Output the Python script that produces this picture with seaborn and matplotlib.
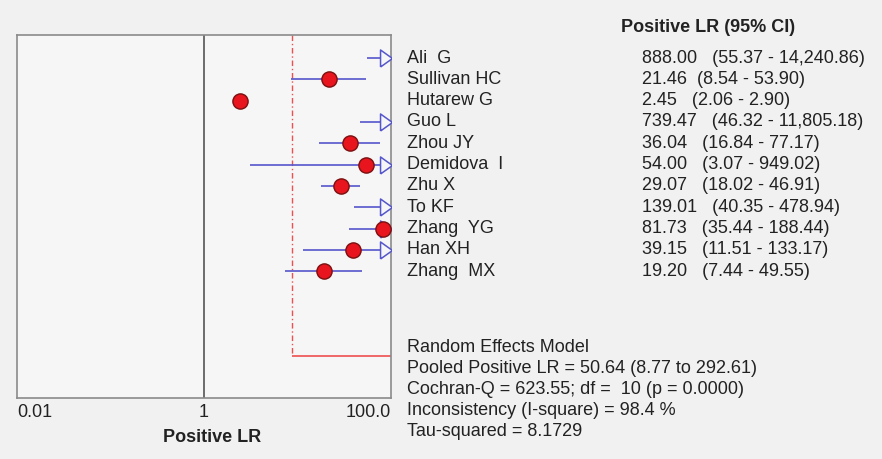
import numpy as np
import pandas as pd
import matplotlib
matplotlib.use("Agg")
import matplotlib.pyplot as plt
import matplotlib.transforms as mtrans
import seaborn as sns

studies = ["Ali  G", "Sullivan HC", "Hutarew G", "Guo L", "Zhou JY", "Demidova  I",
           "Zhu X", "To KF", "Zhang  YG", "Han XH", "Zhang  MX"]
lr = [888.00, 21.46, 2.45, 739.47, 36.04, 54.00, 29.07, 139.01, 81.73, 39.15, 19.20]
lo = [55.37, 8.54, 2.06, 46.32, 16.84, 3.07, 18.02, 40.35, 35.44, 11.51, 7.44]
hi = [14240.86, 53.90, 2.90, 11805.18, 77.17, 949.02, 46.91, 478.94, 188.44, 133.17, 49.55]
ci_text = ["888.00   (55.37 - 14,240.86)", "21.46  (8.54 - 53.90)", "2.45   (2.06 - 2.90)",
           "739.47   (46.32 - 11,805.18)", "36.04   (16.84 - 77.17)", "54.00   (3.07 - 949.02)",
           "29.07   (18.02 - 46.91)", "139.01   (40.35 - 478.94)", "81.73   (35.44 - 188.44)",
           "39.15   (11.51 - 133.17)", "19.20   (7.44 - 49.55)"]
pooled, pooled_lo, pooled_hi = 50.64, 8.77, 292.61
summary_lines = ["Random Effects Model",
                 "Pooled Positive LR = 50.64 (8.77 to 292.61)",
                 "Cochran-Q = 623.55; df =  10 (p = 0.0000)",
                 "Inconsistency (I-square) = 98.4 %",
                 "Tau-squared = 8.1729"]
xticks = [0.01, 1, 100]
xticklabels = ["0.01", "1", "100.0"]

sns.set_theme(style="white")
plt.rcParams['font.family'] = ['Liberation Sans', 'DejaVu Sans']
FS = 13

XMIN, XMAX = 0.01, 100
df = pd.DataFrame({"study": studies, "lr": lr, "lo": lo, "hi": hi, "row": np.arange(len(studies))})

fig = plt.figure(figsize=(8.82, 4.59), dpi=100, facecolor="#f1f1f1")
ax = fig.add_axes([17/882, 1 - 398/459, (391-17)/882, (398-35)/459])
ax.set_facecolor("#f6f6f6")
ax.set_xscale("log")
ax.set_xlim(XMIN, XMAX)
ax.set_ylim(15.95, -1.08)

blue = "#5656cc"
red = "#e8141e"
# CI lines (clipped at axis)
ax.hlines(df["row"], df["lo"].clip(upper=XMAX), df["hi"].clip(upper=XMAX), color=blue, lw=1.2, zorder=2)
# arrows for CIs that exceed the axis
arr = df[df["hi"] > XMAX]
arrow_x = XMAX * 10 ** (-5.0 / 93.5)
tri = [(-0.35, -0.5), (0.35, 0.0), (-0.35, 0.5), (-0.35, -0.5)]
ax.scatter([arrow_x] * len(arr), arr["row"], marker=tri, s=150, facecolor="#f6f6f6",
           edgecolor=blue, linewidth=1.1, zorder=3)
# point estimates inside range
inside = df[df["lr"] <= XMAX]
sns.scatterplot(data=inside, x="lr", y="row", ax=ax, s=120, color=red, edgecolor="#7a1010",
                linewidth=1.0, zorder=4, legend=False)

# reference line at 1
ax.axvline(1, color="#555555", lw=1.2, zorder=1)
# pooled
pooled_row = 14
ax.plot([pooled_lo, pooled_lo], [-1.08, pooled_row], color="#ee5050", lw=1.0,
        linestyle=(0, (4, 2, 1, 2)), zorder=1)
ax.hlines(pooled_row, pooled_lo, min(pooled_hi, XMAX), color="#ee5050", lw=1.2, zorder=2)

for s in ax.spines.values():
    s.set_color("#8a8a8a")
    s.set_linewidth(1.2)
ax.set_yticks([])
ax.set_xticks(xticks)
ax.set_xticklabels(xticklabels, fontsize=FS, color="#222222")
ax.minorticks_off()
ax.tick_params(axis="x", length=0, pad=4)
labs = ax.get_xticklabels()
labs[0].set_ha("left")
labs[-1].set_ha("right")
ax.set_xlabel("Positive LR", fontsize=FS, fontweight="bold", color="#222222")
ax.xaxis.set_label_coords((212-17)/374, -0.085)
ax.set_ylabel("")

# right-hand text
fx = lambda px: px / 882
blend = mtrans.blended_transform_factory(fig.transFigure, ax.transData)
for i, (name, ct) in enumerate(zip(studies, ci_text)):
    ax.text(fx(407), i, name, transform=blend, fontsize=FS, va="center", ha="left", color="#222222")
    ax.text(fx(642), i, ct, transform=blend, fontsize=FS, va="center", ha="left", color="#222222")
fig.text(fx(708), 1 - 28/459, "Positive LR (95% CI)", fontsize=FS, fontweight="bold",
         ha="center", va="center", color="#222222")
for k, line in enumerate(summary_lines):
    fig.text(fx(407), 1 - (347 + 21.2 * k) / 459, line, fontsize=FS, ha="left", va="center", color="#222222")

fig.savefig("out.png", dpi=100, facecolor=fig.get_facecolor())
